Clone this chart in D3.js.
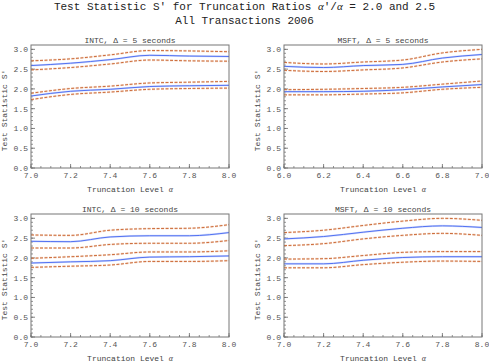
<!DOCTYPE html>
<html>
<head>
<meta charset="utf-8">
<script src="https://cdn.jsdelivr.net/npm/d3@7"></script>
<style>
  body { margin: 0; background: #fff; }
  svg { display: block; }
  text { font-family: "Liberation Mono", "Courier New", monospace; }
</style>
</head>
<body>
<svg id="chart-svg"></svg>
<script>
// truncation levels on the x axis
const intcLevels = [7.0, 7.2, 7.4, 7.6, 7.8, 8.0];
const msft5Levels = [6.0, 6.2, 6.4, 6.6, 6.8, 7.0];
const msft10Levels = [7.0, 7.2, 7.4, 7.6, 7.8, 8.0];

// INTC, delta = 5 s
const intc5Ratio25 = [2.59, 2.65, 2.74, 2.85, 2.83, 2.82];
const intc5Ratio25Hi = [2.71, 2.76, 2.86, 2.97, 2.96, 2.94];
const intc5Ratio25Lo = [2.48, 2.54, 2.63, 2.73, 2.71, 2.70];
const intc5Ratio20 = [1.82, 1.94, 1.99, 2.06, 2.08, 2.09];
const intc5Ratio20Hi = [1.89, 2.01, 2.07, 2.15, 2.17, 2.19];
const intc5Ratio20Lo = [1.73, 1.86, 1.92, 1.99, 2.01, 2.02];

// MSFT, delta = 5 s
const msft5Ratio25 = [2.57, 2.54, 2.59, 2.62, 2.78, 2.87];
const msft5Ratio25Hi = [2.67, 2.63, 2.68, 2.73, 2.91, 3.00];
const msft5Ratio25Lo = [2.47, 2.44, 2.48, 2.53, 2.68, 2.76];
const msft5Ratio20 = [1.93, 1.93, 1.94, 1.98, 2.05, 2.11];
const msft5Ratio20Hi = [1.98, 1.99, 2.01, 2.04, 2.12, 2.20];
const msft5Ratio20Lo = [1.85, 1.85, 1.87, 1.90, 1.99, 2.04];

// INTC, delta = 10 s
const intc10Ratio25 = [2.42, 2.41, 2.53, 2.56, 2.56, 2.64];
const intc10Ratio25Hi = [2.58, 2.57, 2.70, 2.74, 2.75, 2.84];
const intc10Ratio25Lo = [2.25, 2.25, 2.34, 2.37, 2.37, 2.44];
const intc10Ratio20 = [1.87, 1.90, 1.93, 2.02, 2.03, 2.05];
const intc10Ratio20Hi = [1.99, 2.03, 2.08, 2.15, 2.15, 2.18];
const intc10Ratio20Lo = [1.76, 1.79, 1.82, 1.91, 1.91, 1.93];

// MSFT, delta = 10 s
const msft10Ratio25 = [2.48, 2.54, 2.65, 2.75, 2.81, 2.77];
const msft10Ratio25Hi = [2.64, 2.70, 2.82, 2.93, 3.00, 2.95];
const msft10Ratio25Lo = [2.31, 2.36, 2.48, 2.57, 2.62, 2.57];
const msft10Ratio20 = [1.85, 1.85, 1.94, 2.01, 2.03, 2.03];
const msft10Ratio20Hi = [1.97, 1.98, 2.06, 2.14, 2.16, 2.16];
const msft10Ratio20Lo = [1.75, 1.75, 1.83, 1.89, 1.92, 1.91];

const yTickValues = [0, 0.5, 1.0, 1.5, 2.0, 2.5, 3.0];

const panels = [
  { ticker: "INTC", delta: "5", xs: intcLevels, left: 31, top: 45,
    est: [intc5Ratio25, intc5Ratio20], band: [intc5Ratio25Hi, intc5Ratio25Lo, intc5Ratio20Hi, intc5Ratio20Lo] },
  { ticker: "MSFT", delta: "5", xs: msft5Levels, left: 284, top: 45,
    est: [msft5Ratio25, msft5Ratio20], band: [msft5Ratio25Hi, msft5Ratio25Lo, msft5Ratio20Hi, msft5Ratio20Lo] },
  { ticker: "INTC", delta: "10", xs: intcLevels, left: 31, top: 214,
    est: [intc10Ratio25, intc10Ratio20], band: [intc10Ratio25Hi, intc10Ratio25Lo, intc10Ratio20Hi, intc10Ratio20Lo] },
  { ticker: "MSFT", delta: "10", xs: msft10Levels, left: 284, top: 214,
    est: [msft10Ratio25, msft10Ratio20], band: [msft10Ratio25Hi, msft10Ratio25Lo, msft10Ratio20Hi, msft10Ratio20Lo] }
];

const W = 489, H = 361;
const pw = 198, ph = 123;

const svg = d3.select("#chart-svg").attr("width", W).attr("height", H);

// main title
const title = svg.append("text")
  .attr("x", 244.5).attr("y", 9.5)
  .attr("text-anchor", "middle")
  .attr("font-size", 11).attr("fill", "#222");
title.append("tspan").text("Test Statistic S' for Truncation Ratios ");
title.append("tspan").attr("font-family", "Liberation Serif, serif").attr("font-style", "italic").text("α");
title.append("tspan").text("'/");
title.append("tspan").attr("font-family", "Liberation Serif, serif").attr("font-style", "italic").text("α");
title.append("tspan").text(" = 2.0 and 2.5");

svg.append("text")
  .attr("x", 244.5).attr("y", 23.5)
  .attr("text-anchor", "middle")
  .attr("font-size", 11).attr("fill", "#222")
  .text("All Transactions 2006");

panels.forEach(function(p) {
  const g = svg.append("g").attr("transform", "translate(" + p.left + "," + p.top + ")");

  const x = d3.scaleLinear().domain(d3.extent(p.xs)).range([0, pw]);
  const y = d3.scaleLinear().domain([0, 3.11]).range([ph, 0]);

  // minor + major ticks, inward, left and bottom only
  const xMinor = d3.range(0, 21).map(i => p.xs[0] + i * 0.05);
  g.selectAll(".xminor").data(xMinor).enter().append("line")
    .attr("x1", d => x(d)).attr("x2", d => x(d))
    .attr("y1", ph).attr("y2", ph - 2)
    .attr("stroke", "#666").attr("stroke-width", 0.7);
  g.selectAll(".xmajor").data(p.xs).enter().append("line")
    .attr("x1", d => x(d)).attr("x2", d => x(d))
    .attr("y1", ph).attr("y2", ph - 4)
    .attr("stroke", "#666").attr("stroke-width", 0.8);

  const yMinor = d3.range(0, 31).map(i => i * 0.1);
  g.selectAll(".yminor").data(yMinor).enter().append("line")
    .attr("x1", 0).attr("x2", 2)
    .attr("y1", d => y(d)).attr("y2", d => y(d))
    .attr("stroke", "#666").attr("stroke-width", 0.7);
  g.selectAll(".ymajor").data(yTickValues).enter().append("line")
    .attr("x1", 0).attr("x2", 4)
    .attr("y1", d => y(d)).attr("y2", d => y(d))
    .attr("stroke", "#666").attr("stroke-width", 0.8);

  // tick labels
  g.selectAll(".xlab").data(p.xs).enter().append("text")
    .attr("x", d => x(d)).attr("y", ph + 10)
    .attr("text-anchor", "middle").attr("font-size", 8).attr("fill", "#555")
    .text(d => d3.format(".1f")(d));
  g.selectAll(".ylab").data(yTickValues).enter().append("text")
    .attr("x", -3).attr("y", d => y(d) + 3)
    .attr("text-anchor", "end").attr("font-size", 8).attr("fill", "#555")
    .text(d => d3.format(".1f")(d));

  // lines
  const line = d3.line()
    .x((d, i) => x(p.xs[i]))
    .y(d => y(d))
    .curve(d3.curveMonotoneX);

  p.band.forEach(function(vals) {
    g.append("path").datum(vals)
      .attr("fill", "none").attr("stroke", "#eec2a6").attr("stroke-width", 2.2)
      .attr("stroke-dasharray", "3,1.5").attr("opacity", 0.5)
      .attr("d", line);
    g.append("path").datum(vals)
      .attr("fill", "none").attr("stroke", "#c8602a").attr("stroke-width", 0.9)
      .attr("stroke-dasharray", "3,1.5")
      .attr("d", line);
  });
  p.est.forEach(function(vals) {
    g.append("path").datum(vals)
      .attr("fill", "none").attr("stroke", "#c2cdfb").attr("stroke-width", 2)
      .attr("opacity", 0.7)
      .attr("d", line);
    g.append("path").datum(vals)
      .attr("fill", "none").attr("stroke", "#5272f2").attr("stroke-width", 1)
      .attr("d", line);
  });

  // frame
  g.append("rect").attr("x", 0).attr("y", 0).attr("width", pw).attr("height", ph)
    .attr("fill", "none").attr("stroke", "#777").attr("stroke-width", 1);

  // panel title
  g.append("text")
    .attr("x", pw / 2).attr("y", -2.5)
    .attr("text-anchor", "middle").attr("font-size", 8).attr("fill", "#444")
    .text(p.ticker + ", Δ = " + p.delta + " seconds");

  // axis labels
  const xl = g.append("text")
    .attr("x", pw / 2).attr("y", ph + 23.5)
    .attr("text-anchor", "middle").attr("font-size", 8).attr("fill", "#444");
  xl.append("tspan").text("Truncation Level ");
  xl.append("tspan").attr("font-family", "Liberation Serif, serif").attr("font-style", "italic").text("α");

  g.append("text")
    .attr("transform", "translate(-24," + (ph / 2 + 4) + ") rotate(-90)")
    .attr("text-anchor", "middle").attr("font-size", 8).attr("fill", "#444")
    .text("Test Statistic S'");
});
</script>
</body>
</html>
